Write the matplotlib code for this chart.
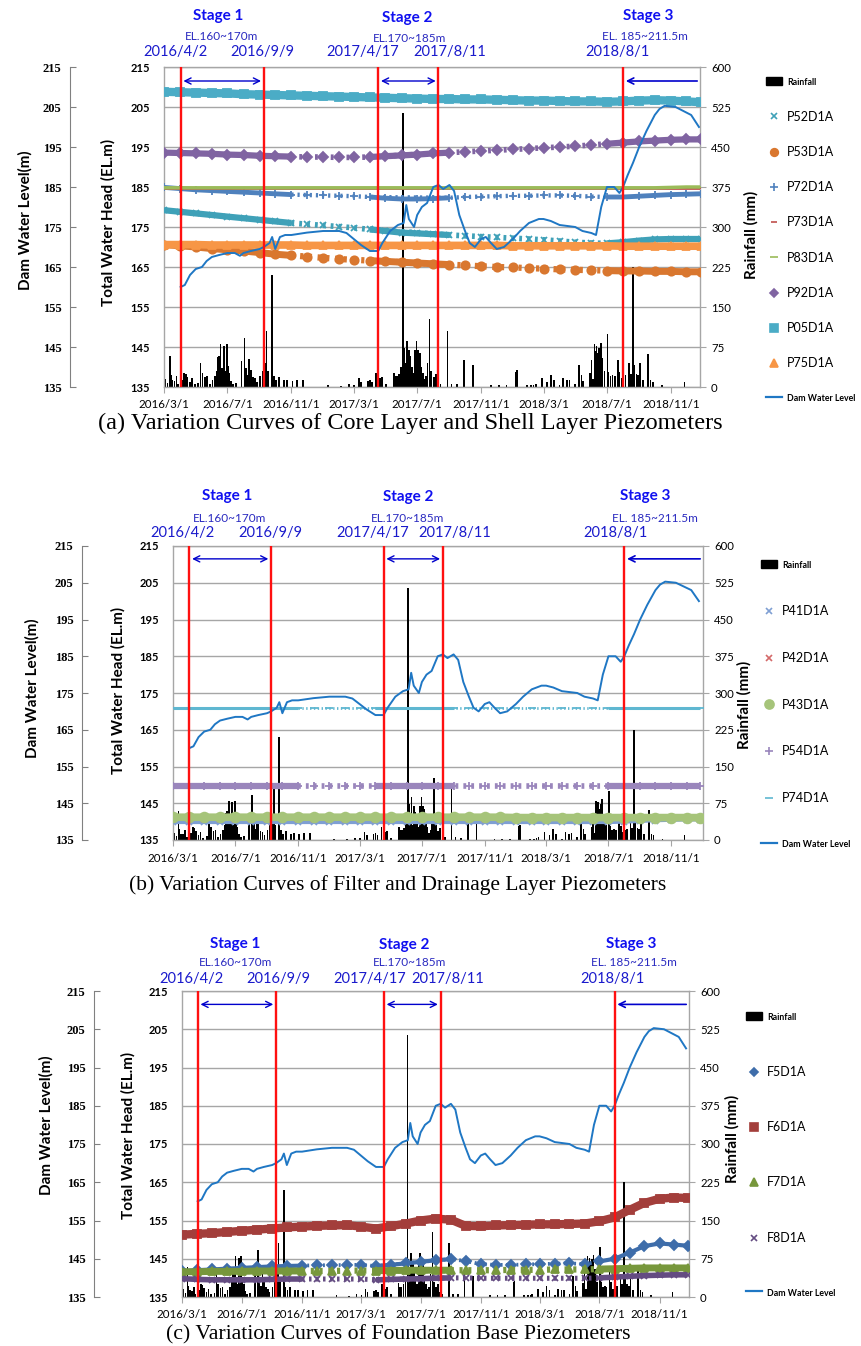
import numpy as np
import pandas as pd
import matplotlib
matplotlib.use("Agg")
import matplotlib.pyplot as plt
from matplotlib.lines import Line2D
from matplotlib.patches import Patch

plt.rcParams['font.family'] = ['Lato', 'DejaVu Sans']

W, H = 861, 1346

# ---------------- data ----------------
# monthly readings of the piezometers (2016/3/1 ... 2018/12/1, 2018/12/28)
months = pd.to_datetime([f"{y}-{m:02d}-01" for y in (2016, 2017, 2018) for m in range(1, 13)
                         if not (y == 2016 and m < 3)] + ["2018-12-28"])

# panel (a) core / shell layer
P52D1A = [179.2, 178.8, 178.4, 178.0, 177.6, 177.2, 176.8, 176.4, 176.0, 175.7,
          175.4, 175.1, 174.8, 174.4, 174.0, 173.6, 173.4, 173.2, 173.0, 172.8, 172.6, 172.4,
          172.2, 172.0, 171.8, 171.5, 171.2, 171.0, 170.9, 171.2, 171.6, 171.9, 172.0, 172.0, 172.0]
P53D1A = [170.6, 170.3, 170.0, 169.6, 169.3, 169.0, 168.6, 168.2, 167.9, 167.6,
          167.3, 167.0, 166.8, 166.6, 166.4, 166.2, 166.0, 165.8, 165.6, 165.4, 165.2, 165.0,
          164.9, 164.7, 164.6, 164.4, 164.3, 164.2, 164.1, 164.0, 164.0, 163.9, 163.9, 163.8, 163.8]
P72D1A = [184.9, 184.6, 184.3, 184.1, 183.9, 183.7, 183.5, 183.3, 183.1, 183.0,
          182.9, 182.8, 182.7, 182.5, 182.2, 182.0, 182.0, 182.1, 182.3, 182.5, 182.6, 182.7,
          182.8, 182.8, 182.9, 182.9, 182.8, 182.6, 182.5, 182.5, 182.7, 182.9, 183.1, 183.2, 183.3]
P73D1A = [184.7] * 35
P83D1A = [184.8] * 32 + [184.9, 185.0, 185.0]
P92D1A = [193.6, 193.5, 193.4, 193.3, 193.1, 193.0, 192.8, 192.7, 192.6, 192.5,
          192.5, 192.4, 192.4, 192.5, 192.7, 192.9, 193.1, 193.4, 193.6, 193.8, 194.0, 194.2,
          194.4, 194.6, 194.8, 195.0, 195.2, 195.5, 195.8, 196.1, 196.4, 196.6, 196.8, 196.9, 196.9]
P05D1A = [208.8, 208.7, 208.6, 208.5, 208.4, 208.2, 208.1, 208.0, 207.9, 207.8,
          207.7, 207.6, 207.5, 207.4, 207.3, 207.2, 207.1, 207.0, 207.0, 206.9, 206.9, 206.8,
          206.7, 206.6, 206.6, 206.5, 206.4, 206.4, 206.3, 206.4, 206.6, 206.7, 206.6, 206.4, 206.2]
P75D1A = [170.6, 170.6, 170.6, 170.5, 170.5, 170.5, 170.5, 170.5, 170.5, 170.4,
          170.4, 170.4, 170.4, 170.4, 170.4, 170.4, 170.4, 170.4, 170.4, 170.4, 170.4, 170.4,
          170.3, 170.3, 170.3, 170.3, 170.3, 170.3, 170.3, 170.2, 170.2, 170.2, 170.2, 170.2, 170.2]

# panel (b) filter / drainage layer
P41D1A = [139.8] * 29 + [139.9, 140.1, 140.3, 140.4, 140.5, 140.5]
P42D1A = [140.6] * 35
P43D1A = [141.2] * 22 + [141.1] * 13
P54D1A = [149.6] * 35
P74D1A = [171.0] * 35

# panel (c) foundation base
F5D1A = [141.8, 142.0, 142.2, 142.4, 142.6, 142.8, 143.0, 143.1, 143.2, 143.3,
         143.3, 143.4, 143.4, 143.1, 143.4, 143.8, 144.2, 144.6, 144.9, 144.4, 143.6, 143.4,
         143.4, 143.5, 143.6, 143.7, 143.8, 143.6, 144.3, 145.0, 146.6, 148.3, 149.0, 148.7, 148.4]
F6D1A = [151.3, 151.5, 151.7, 152.0, 152.3, 152.6, 152.9, 153.2, 153.4, 153.6,
         153.7, 153.8, 153.4, 152.9, 153.5, 154.2, 155.0, 155.5, 155.2, 153.6, 153.5, 153.7,
         153.8, 153.9, 154.0, 154.0, 154.1, 154.2, 154.8, 155.8, 157.8, 159.6, 160.7, 161.0, 160.9]
F7D1A = [141.6, 141.6, 141.7, 141.7, 141.7, 141.8, 141.8, 141.8, 141.8, 141.8,
         141.8, 141.9, 141.9, 141.9, 141.9, 142.0, 142.0, 142.0, 142.0, 142.0, 142.0, 142.0,
         142.1, 142.1, 142.1, 142.2, 142.2, 142.2, 142.3, 142.4, 142.5, 142.6, 142.6, 142.6, 142.6]
F8D1A = [139.8, 139.6, 139.5, 139.5, 139.5, 139.5, 139.6, 139.7, 139.7, 139.7,
         139.7, 139.7, 139.7, 139.5, 139.6, 139.7, 139.8, 139.9, 140.0, 140.0, 139.9, 139.9,
         139.9, 139.9, 139.9, 139.9, 139.9, 139.9, 140.0, 140.2, 140.4, 140.6, 140.7, 140.8, 140.8]

# dam water level (m)
dam_dates = ["2016-04-02", "2016-04-10", "2016-04-20", "2016-05-01", "2016-05-13", "2016-05-22",
             "2016-06-01", "2016-06-15", "2016-07-01", "2016-07-15", "2016-07-25", "2016-08-01",
             "2016-08-15", "2016-09-01", "2016-09-09", "2016-09-20", "2016-09-25", "2016-10-01",
             "2016-10-10", "2016-10-20", "2016-11-01", "2016-12-01", "2017-01-01", "2017-02-01",
             "2017-02-15", "2017-03-01", "2017-03-15", "2017-04-01", "2017-04-17", "2017-04-25",
             "2017-05-10", "2017-05-25", "2017-06-05", "2017-06-10", "2017-06-15", "2017-06-25",
             "2017-07-01", "2017-07-10", "2017-07-20", "2017-08-01", "2017-08-11", "2017-08-20",
             "2017-09-01", "2017-09-10", "2017-09-20", "2017-10-01", "2017-10-10", "2017-10-20",
             "2017-11-01", "2017-11-10", "2017-11-20", "2017-12-01", "2017-12-15", "2018-01-01",
             "2018-01-15", "2018-02-01", "2018-02-20", "2018-03-01", "2018-03-15", "2018-04-01",
             "2018-05-01", "2018-05-15", "2018-06-01", "2018-06-10", "2018-06-20", "2018-07-01",
             "2018-07-15", "2018-07-25", "2018-08-01", "2018-08-10", "2018-08-20", "2018-09-01",
             "2018-09-15", "2018-10-01", "2018-10-10", "2018-10-20", "2018-11-10", "2018-11-25",
             "2018-12-10", "2018-12-25"]
dam_level = [160.0, 160.5, 163.0, 164.5, 165.0, 166.5,
             167.5, 168.0, 168.5, 168.5, 167.8, 168.5,
             169.0, 169.5, 170.0, 171.0, 172.5, 169.5,
             172.5, 173.0, 173.0, 173.6, 174.0, 174.0,
             173.5, 172.0, 170.5, 169.0, 169.0, 171.0,
             174.0, 175.5, 176.0, 180.5, 177.0, 175.0,
             178.0, 180.0, 181.0, 185.0, 185.5, 184.5,
             185.5, 184.0, 178.0, 174.0, 171.0, 170.0,
             172.0, 172.5, 171.0, 169.5, 170.0, 172.0,
             174.0, 176.0, 177.0, 177.0, 176.5, 175.5,
             175.0, 174.0, 173.5, 173.0, 180.0, 185.0,
             185.0, 183.5, 185.0, 188.0, 191.0, 195.0,
             199.0, 203.0, 204.5, 205.3, 205.0, 204.0,
             203.0, 200.0]

# daily rainfall (mm)
rain_dates = ["2016-03-04", "2016-03-08", "2016-03-12", "2016-03-14", "2016-03-17", "2016-03-21",
              "2016-03-25", "2016-03-28", "2016-04-05", "2016-04-09", "2016-04-12", "2016-04-15",
              "2016-04-20", "2016-04-24", "2016-04-29", "2016-05-06", "2016-05-10", "2016-05-14",
              "2016-05-19", "2016-05-23", "2016-05-28", "2016-06-02", "2016-06-07", "2016-06-11",
              "2016-06-13", "2016-06-15", "2016-06-18", "2016-06-20", "2016-06-22", "2016-06-25",
              "2016-06-27", "2016-06-30", "2016-07-02", "2016-07-05", "2016-07-08", "2016-07-12",
              "2016-07-18", "2016-07-28", "2016-08-03", "2016-08-06", "2016-08-09", "2016-08-12",
              "2016-08-15", "2016-08-19", "2016-08-23", "2016-08-27", "2016-09-02", "2016-09-07",
              "2016-09-11", "2016-09-14", "2016-09-17", "2016-09-25", "2016-09-28", "2016-10-02",
              "2016-10-08", "2016-10-18", "2016-10-24", "2016-11-03", "2016-11-12", "2016-11-24",
              "2017-01-10", "2017-02-05", "2017-02-20", "2017-03-02", "2017-03-11", "2017-03-15",
              "2017-03-28", "2017-04-01", "2017-04-05", "2017-04-13", "2017-04-20", "2017-04-24",
              "2017-05-02", "2017-05-17", "2017-05-20", "2017-05-23", "2017-05-27", "2017-05-31",
              "2017-06-04", "2017-06-06", "2017-06-08", "2017-06-11", "2017-06-13", "2017-06-15",
              "2017-06-18", "2017-06-21", "2017-06-24", "2017-06-27", "2017-06-30", "2017-07-03",
              "2017-07-06", "2017-07-09", "2017-07-12", "2017-07-15", "2017-07-18", "2017-07-21",
              "2017-07-25", "2017-07-28", "2017-08-02", "2017-08-06", "2017-08-10", "2017-08-15",
              "2017-08-28", "2017-09-05", "2017-09-15", "2017-09-29", "2017-10-16", "2017-11-20",
              "2017-12-05", "2017-12-20", "2018-01-07", "2018-01-09", "2018-01-28", "2018-02-05",
              "2018-02-10", "2018-02-14", "2018-02-26", "2018-03-08", "2018-03-15", "2018-03-21",
              "2018-04-01", "2018-04-08", "2018-04-15", "2018-04-20", "2018-05-01", "2018-05-08",
              "2018-05-13", "2018-05-16", "2018-05-29", "2018-06-01", "2018-06-04", "2018-06-07",
              "2018-06-09", "2018-06-11", "2018-06-14", "2018-06-16", "2018-06-19", "2018-06-22",
              "2018-06-26", "2018-07-02", "2018-07-04", "2018-07-08", "2018-07-12", "2018-07-16",
              "2018-07-22", "2018-07-25", "2018-07-29", "2018-08-02", "2018-08-06", "2018-08-13",
              "2018-08-16", "2018-08-20", "2018-08-23", "2018-08-27", "2018-08-30", "2018-09-03",
              "2018-09-08", "2018-09-18", "2018-09-23", "2018-09-27", "2018-10-15", "2018-11-27"]
rain_mm = [15, 8, 59, 22, 13, 12,
           20, 6, 14, 26, 24, 18,
           10, 16, 5, 8, 45, 26,
           18, 20, 6, 13, 20, 30,
           56, 59, 80, 35, 26, 77,
           30, 80, 40, 26, 12, 6,
           8, 48, 92, 35, 22, 53,
           32, 19, 16, 10, 20, 30,
           45, 105, 30, 210, 20, 13,
           19, 13, 14, 12, 14, 14,
           3, 2, 5, 4, 16, 10,
           12, 14, 10, 26, 16, 19,
           5, 27, 20, 20, 25, 38,
           514, 74, 45, 87, 30, 70,
           58, 38, 26, 70, 87, 70,
           64, 38, 26, 15, 20, 45,
           127, 30, 19, 25, 10, 6,
           105, 6, 5, 51, 42, 3,
           3, 3, 29, 31, 3, 3,
           4, 6, 16, 10, 22, 13,
           3, 16, 13, 14, 6, 42,
           22, 12, 27, 51, 15, 80,
           67, 77, 64, 74, 83, 54,
           30, 99, 29, 20, 22, 20,
           51, 29, 16, 20, 22, 45,
           25, 225, 42, 25, 22, 45,
           13, 61, 13, 10, 3, 10]

# construction stages
stage_lines = ["2016-04-02", "2016-09-09", "2017-04-17", "2017-08-11", "2018-08-01"]
stage_names = ["Stage 1", "Stage 2", "Stage 3"]
stage_el = ["EL.160~170m", "EL.170~185m", "EL. 185~211.5m"]
date_ticks = ["2016-03-01", "2016-07-01", "2016-11-01", "2017-03-01", "2017-07-01",
              "2017-11-01", "2018-03-01", "2018-07-01", "2018-11-01"]
date_tick_labels = ["2016/3/1", "2016/7/1", "2016/11/1", "2017/3/1", "2017/7/1",
                    "2017/11/1", "2018/3/1", "2018/7/1", "2018/11/1"]
captions = ["(a) Variation Curves of Core Layer and Shell Layer Piezometers",
            "(b) Variation Curves of Filter and Drainage Layer Piezometers",
            "(c) Variation Curves of Foundation Base Piezometers"]
caption_size = [17.5, 15.5, 15.7]

# periods with dense readings (drawn as a continuous band)
dense_periods = [("2016-03-01", "2016-11-01"), ("2017-04-01", "2017-09-01"), ("2018-07-01", "2018-12-31")]

# (label, values, color, marker, marker size, band width, band everywhere?)
panel_series = [
    [("P52D1A", P52D1A, "#3FA1B8", "x", 5, 4.5, False),
     ("P53D1A", P53D1A, "#D9772F", "o", 6, 5, False),
     ("P72D1A", P72D1A, "#4F81BD", "+", 6, 3.5, False),
     ("P73D1A", P73D1A, "#C0504D", "_", 5, 2, True),
     ("P83D1A", P83D1A, "#9BBB59", "_", 6, 2.5, True),
     ("P92D1A", P92D1A, "#8064A2", "D", 5, 4.5, False),
     ("P05D1A", P05D1A, "#4BACC6", "s", 6, 6, True),
     ("P75D1A", P75D1A, "#F79646", "^", 6, 5.5, True)],
    [("P41D1A", P41D1A, "#7F9FD3", "x", 5, 2.5, True),
     ("P42D1A", P42D1A, "#D46A6A", "x", 5, 2, True),
     ("P43D1A", P43D1A, "#A6C47A", "o", 7, 5.5, True),
     ("P54D1A", P54D1A, "#9A86BC", "+", 6, 4.5, False),
     ("P74D1A", P74D1A, "#5FB7D1", "_", 6, 2.2, False)],
    [("F5D1A", F5D1A, "#3E6DAA", "D", 5, 3, False),
     ("F6D1A", F6D1A, "#A33E3B", "s", 6, 6, True),
     ("F7D1A", F7D1A, "#77973C", "^", 6, 5, False),
     ("F8D1A", F8D1A, "#644C82", "x", 5, 4, False)],
]

# layout in pixels: (left, right, top, bottom, dam axis x, x end)
panel_box = [(164, 700, 67, 387, 70, "2018-12-27"),
             (173, 703, 546, 840, 82, "2019-01-02"),
             (182, 689, 991, 1297, 94, "2018-12-31")]
# text positions in pixels
stage_text_xy = [
    dict(stage=[(218, 16), (407, 18), (648, 16)], el=[(222, 37), (410, 38), (645, 37)],
         dates=[(175, 52), (262, 52), (363, 52), (450, 52), (617, 52)]),
    dict(stage=[(227, 496), (408, 497), (645, 496)], el=[(230, 518), (408, 518), (655, 518)],
         dates=[(182, 533), (270, 533), (373, 533), (455, 533), (615, 533)]),
    dict(stage=[(235, 944), (404, 945), (631, 944)], el=[(236, 963), (410, 963), (634, 963)],
         dates=[(191, 979), (278, 979), (370, 979), (448, 979), (612, 979)]),
]
ylabel_xy = [((25, 220), (108, 222), (751, 235)),
             ((32, 688), (118, 690), (744, 705)),
             ((46, 1125), (128, 1135), (732, 1139))]
caption_xy = [(410, 423), (398, 885), (398, 1335)]
# legend anchor (x, top y) in pixels and row spacing
legend_xy = [(766, 77, 1.86), (761, 560, 2.78), (746, 1012, 3.47)]

GRAY = "#A6A6A6"


def fx(px):
    return px / W


def fy(py):
    return 1 - py / H


fig = plt.figure(figsize=(W / 100, H / 100), dpi=100)

months_arr = months.values
rain_d = pd.to_datetime(rain_dates)
dam_d = pd.to_datetime(dam_dates)

dense = np.zeros(len(months_arr), bool)
for a, b in dense_periods:
    dense |= (months >= a) & (months <= b)
# sparse points plus the neighbouring dense ones so the segments join up
sparse = ~dense | np.roll(~dense, 1) | np.roll(~dense, -1)

for k in range(3):
    left, right, top, bottom, damx, xend = panel_box[k]
    rect = [fx(left), fy(bottom), fx(right - left), (bottom - top) / H]

    # rainfall axis (bottom layer)
    axr = fig.add_axes(rect)
    axr.bar(rain_d, rain_mm, width=3.2, color="black", linewidth=0, zorder=2)
    axr.set_ylim(0, 600)
    axr.set_yticks(range(0, 601, 75))
    axr.grid(axis="y", color=GRAY, lw=1.0, zorder=0)
    axr.set_axisbelow(True)
    axr.set_xlim(pd.Timestamp("2016-03-01"), pd.Timestamp(xend))
    axr.set_xticks(pd.to_datetime(date_ticks))
    axr.set_xticklabels(date_tick_labels, fontsize=8.3)
    axr.tick_params(axis="x", direction="out", length=4, color=GRAY, pad=5)
    for s in axr.spines.values():
        s.set_color(GRAY)
        s.set_linewidth(1.0)

    # water head axis (top layer)
    axh = axr.twinx()
    axr.yaxis.tick_right()
    axr.tick_params(axis="y", direction="out", length=4, color=GRAY, labelsize=8.2, pad=4)
    axh.yaxis.tick_left()
    axh.set_ylim(135, 215)
    axh.set_yticks(range(135, 216, 10))
    axh.tick_params(axis="y", length=0, pad=10, labelsize=8)
    for lab in axh.get_yticklabels():
        lab.set_fontweight("bold")
    for s in axh.spines.values():
        s.set_visible(False)

    handles = [Patch(facecolor="black", edgecolor="black")]
    labels = ["Rainfall"]
    for name, vals, col, mk, ms, band, always in panel_series[k]:
        y = np.asarray(vals, float)
        if always:
            axh.plot(months_arr, y, color=col, lw=band, solid_capstyle="butt", zorder=3)
        else:
            axh.plot(months_arr, np.where(dense, y, np.nan), color=col, lw=band,
                     solid_capstyle="butt", zorder=3)
            axh.plot(months_arr[sparse], y[sparse], color=col, lw=band * 0.9,
                     dashes=(0.5, 0.9), zorder=3)
        axh.plot(months_arr, y, ls="none", marker=mk, ms=ms, color=col, mew=1.3, zorder=3)
        handles.append(Line2D([], [], ls="none", marker=mk, ms=ms - 0.5, color=col, mew=1.2))
        labels.append(name)

    axh.plot(dam_d, dam_level, color="#1F77C4", lw=1.4, zorder=4)
    handles.append(Line2D([], [], color="#1F77C4", lw=1.6))
    labels.append("Dam Water Level")

    # stage lines and arrows
    sl = pd.to_datetime(stage_lines)
    for d in sl:
        axh.axvline(d, color="#FF1010", lw=1.7, zorder=5)
    arrow_kw = dict(arrowstyle="<->", color="#0000CC", lw=1.0, mutation_scale=11)
    axh.annotate("", xy=(sl[1], 211.5), xytext=(sl[0], 211.5), arrowprops=arrow_kw, zorder=6)
    axh.annotate("", xy=(sl[3], 211.5), xytext=(sl[2], 211.5), arrowprops=arrow_kw, zorder=6)
    axh.annotate("", xy=(sl[4], 211.5), xytext=(pd.Timestamp(xend), 211.5),
                 arrowprops=dict(arrowstyle="->", color="#0000CC", lw=1.2, mutation_scale=11),
                 zorder=6)
    axh.set_xlim(pd.Timestamp("2016-03-01"), pd.Timestamp(xend))

    # dam water level axis
    axd = fig.add_axes([fx(damx), fy(bottom), 0.0005, (bottom - top) / H])
    axd.set_ylim(135, 215)
    axd.set_yticks(range(135, 216, 10))
    axd.set_xticks([])
    axd.patch.set_visible(False)
    for side in ("top", "right", "bottom"):
        axd.spines[side].set_visible(False)
    axd.spines["left"].set_color("#808080")
    axd.tick_params(axis="y", direction="in", length=4, color="#808080", pad=6)
    for lab in axd.get_yticklabels():
        lab.set_fontfamily("Liberation Serif")
        lab.set_fontweight("bold")
        lab.set_fontsize(9)

    # axis titles
    (dx, dy), (tx, ty), (rx, ry) = ylabel_xy[k]
    fig.text(fx(dx), fy(dy), "Dam Water Level(m)", rotation=90, ha="center", va="center",
             fontsize=11, fontweight="bold")
    fig.text(fx(tx), fy(ty), "Total Water Head (EL.m)", rotation=90, ha="center", va="center",
             fontsize=11, fontweight="bold")
    fig.text(fx(rx), fy(ry), "Rainfall (mm)", rotation=90, ha="center", va="center",
             fontsize=11, fontweight="bold")

    # stage annotations
    pos = stage_text_xy[k]
    for (sx, sy), txt in zip(pos["stage"], stage_names):
        fig.text(fx(sx), fy(sy), txt, ha="center", va="center", fontsize=11,
                 fontweight="bold", color="#1010F0")
    for (sx, sy), txt in zip(pos["el"], stage_el):
        fig.text(fx(sx), fy(sy), txt, ha="center", va="center", fontsize=8.5, color="#2A2AC0")
    for (sx, sy), d in zip(pos["dates"], sl):
        fig.text(fx(sx), fy(sy), f"{d.year}/{d.month}/{d.day}", ha="center", va="center",
                 fontsize=10.5, color="#1A1ACC")

    # caption
    cx, cy = caption_xy[k]
    fig.text(fx(cx), fy(cy), captions[k], ha="center", va="center", fontsize=caption_size[k],
             fontfamily="Liberation Serif")

    # legend
    lx, ly, lsp = legend_xy[k]
    leg = fig.legend(handles, labels, loc="upper left", bbox_to_anchor=(fx(lx), fy(ly)),
                     frameon=False, fontsize=9, labelspacing=lsp, handlelength=1.3,
                     handleheight=0.6, handletextpad=0.4, borderpad=0, borderaxespad=0)
    for t in leg.get_texts():
        if t.get_text() in ("Rainfall", "Dam Water Level"):
            t.set_fontweight("bold")
            t.set_fontsize(6.3)

fig.savefig("out.png", dpi=100)
